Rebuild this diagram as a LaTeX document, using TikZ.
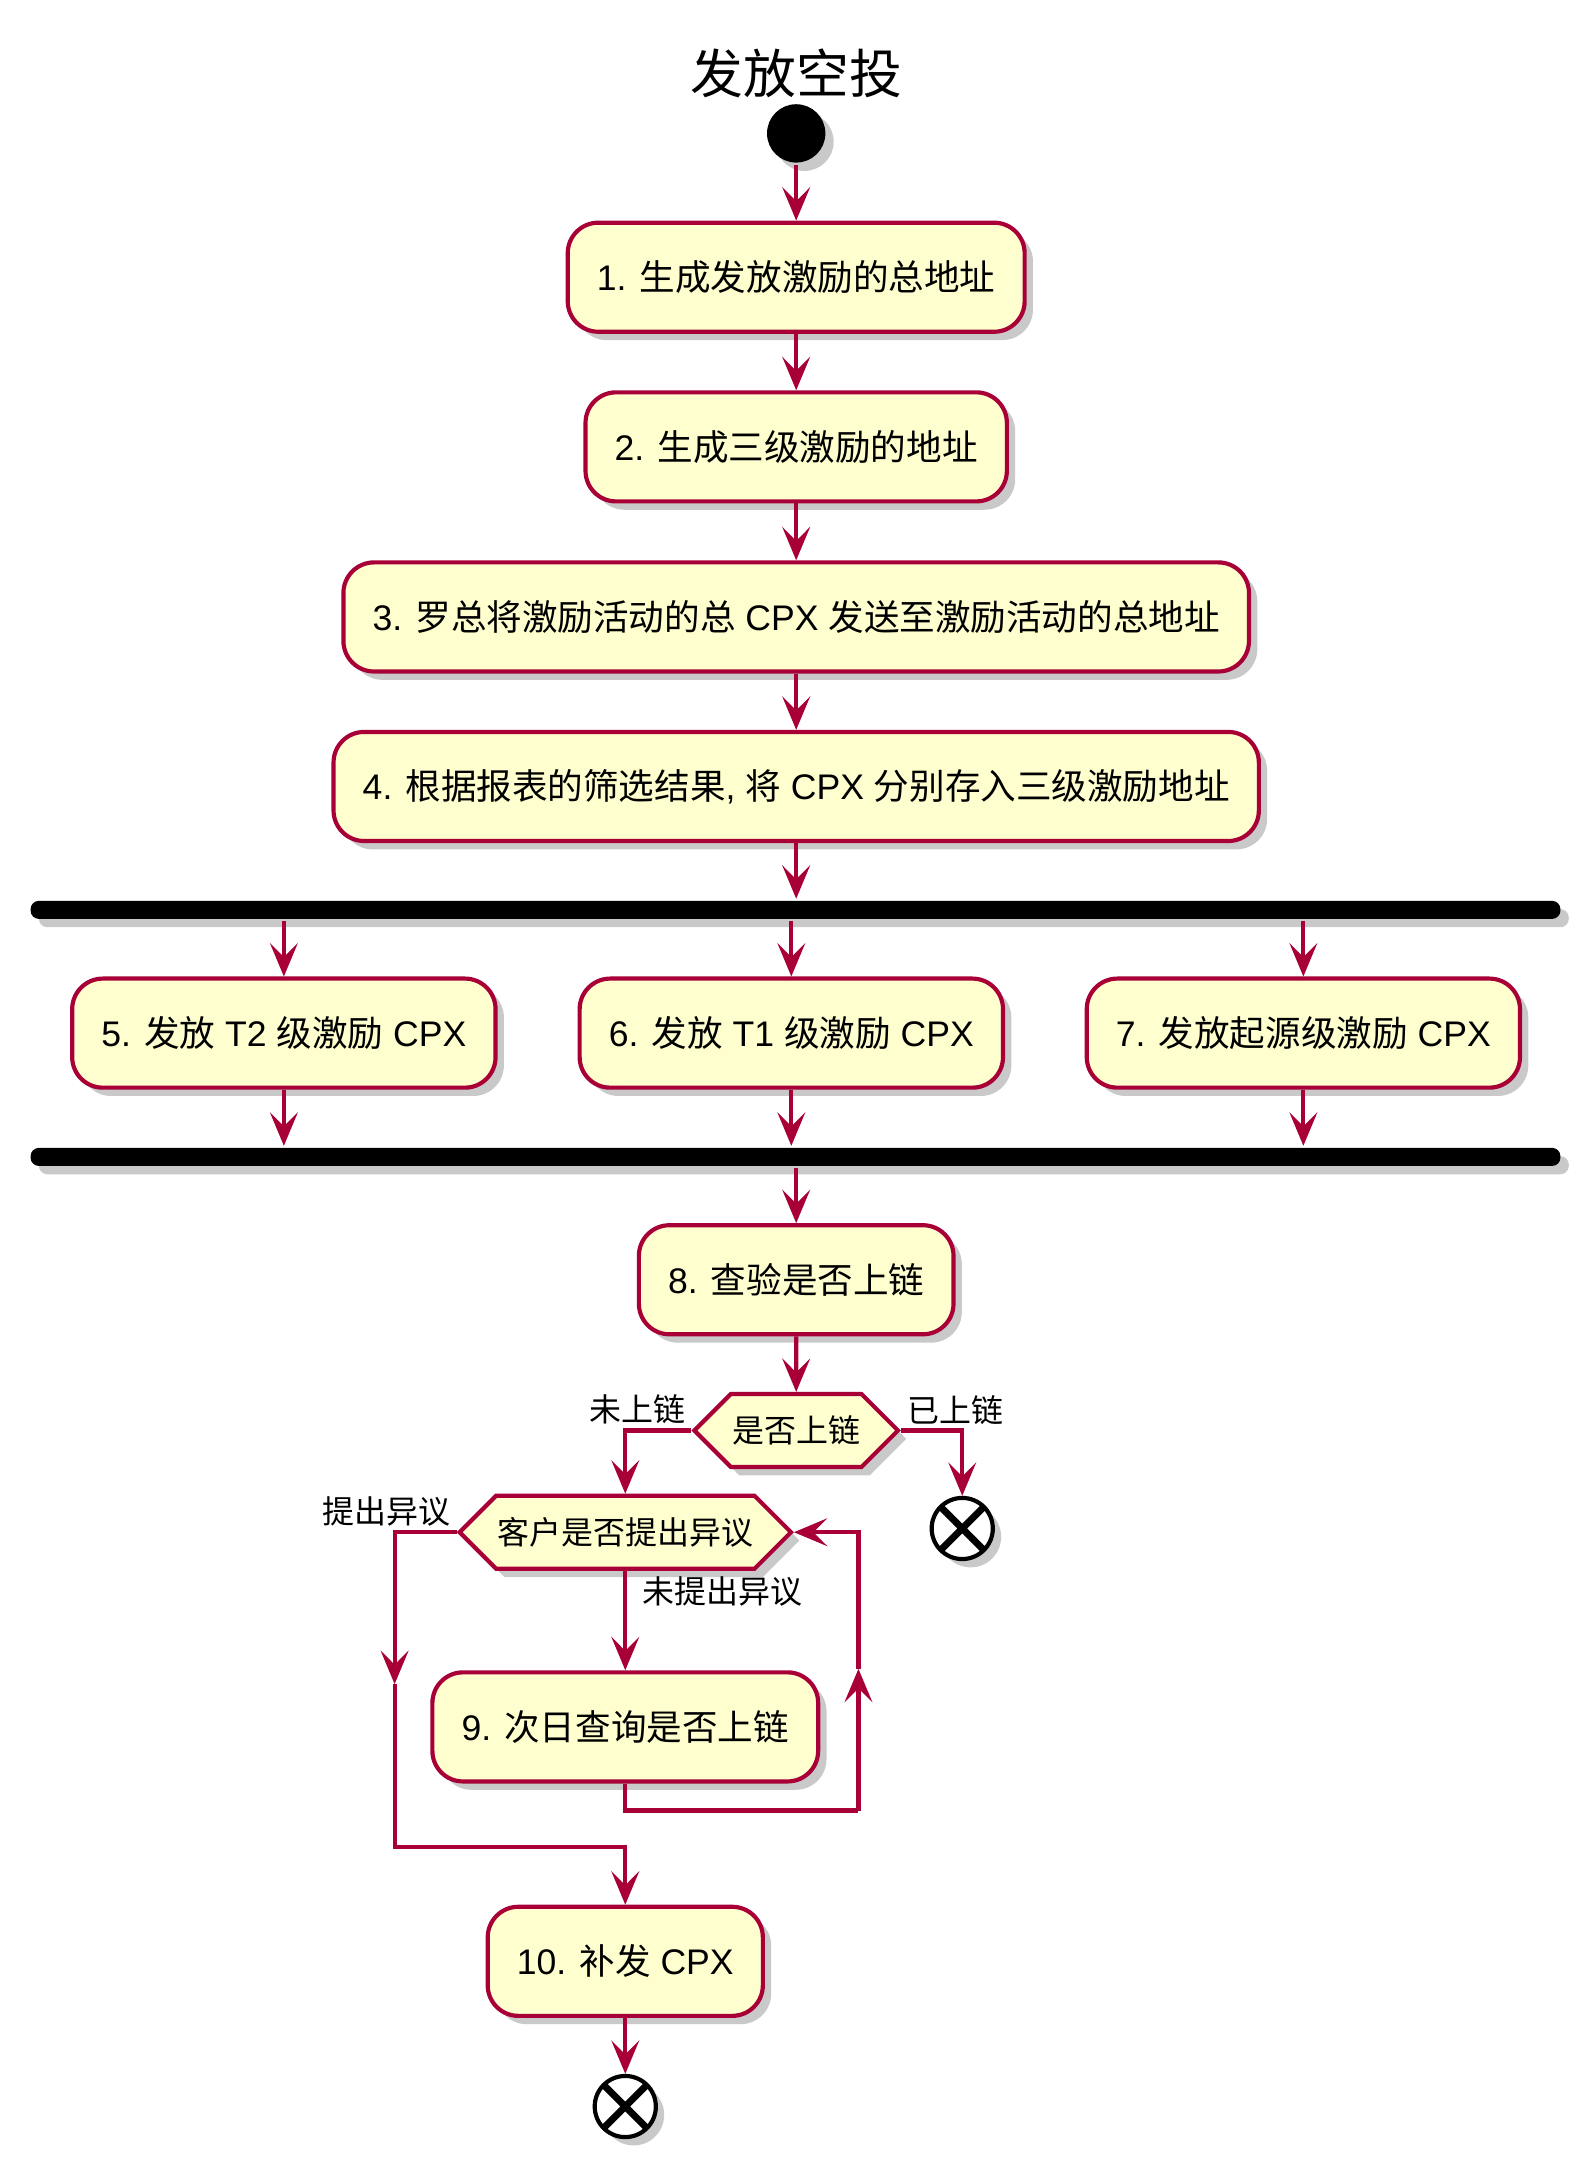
\documentclass[tikz,border=0pt]{standalone}
\usepackage{fontspec}
\setmainfont{Liberation Sans}
\newfontfamily\cjk{Noto Sans CJK SC}
\usetikzlibrary{arrows.meta, shapes.symbols, shadows}
\definecolor{umlred}{HTML}{A80036}
\definecolor{umlfill}{HTML}{FEFECE}

\begin{document}
\begin{tikzpicture}[x=0.5pt, y=-0.5pt, line width=1.5pt, color=umlred,
      >={Stealth[length=12pt, width=10pt, inset=5pt]},
      every node/.append style={text=black, font=\fontsize{12.8}{16}\selectfont},
      umlshadow/.style={drop shadow={shadow xshift=3pt, shadow yshift=-3pt, opacity=0.3, fill=black!70}}]
    \tikzstyle{actbox} = [draw, fill=umlfill, rounded corners=11pt, minimum height=39.25pt, inner xsep=10.5pt, umlshadow]
    \tikzstyle{choice} = [draw, fill=umlfill, signal, signal to=west and east, signal pointer angle=90,
                          minimum height=26.25pt, inner xsep=0.5pt, font=\fontsize{11.5}{14}\cjk, umlshadow]
    \tikzstyle{syncbar} = [fill=black, draw=none, rounded corners=3pt, minimum width=550.5pt,
                           minimum height=6.5pt, inner sep=0pt, umlshadow]
    \tikzstyle{lbl} = [font=\fontsize{11.5}{13}\cjk, inner sep=1.5pt]
    \tikzstyle{startnode} = [circle, fill=black, draw=none, minimum size=21pt, inner sep=0pt, umlshadow]
    \tikzstyle{stopnode} = [circle, draw=black, fill=white, minimum size=22pt, inner sep=0pt, umlshadow,
      path picture={\draw[black, line width=2.5pt]
        (path picture bounding box.north west) -- (path picture bounding box.south east)
        (path picture bounding box.north east) -- (path picture bounding box.south west);}]
    \useasboundingbox (0,0) rectangle (1140,1558.1);
    % title and start
    \node[font=\fontsize{19}{22}\cjk] (title) at (573,53) {发放空投};
    \node[startnode] (start) at (573,96) {};
    % main column
    \node[actbox] (addr) at (573,199.5) {1. {\cjk 生成发放激励的总地址}};
    \node[actbox] (lvladdr) at (573,321.6) {2. {\cjk 生成三级激励的地址}};
    \node[actbox] (send) at (573,444) {3. {\cjk 罗总将激励活动的总} CPX {\cjk 发送至激励活动的总地址}};
    \node[actbox] (store) at (573,566) {4. {\cjk 根据报表的筛选结果}, {\cjk 将} CPX {\cjk 分别存入三级激励地址}};
    \node[syncbar] (fork) at (572.5,654.8) {};
    \node[actbox] (tt) at (204.3,743.5) {5. {\cjk 发放} T2 {\cjk 级激励} CPX};
    \node[actbox] (to) at (569.5,743.5) {6. {\cjk 发放} T1 {\cjk 级激励} CPX};
    \node[actbox] (origin) at (938,743.5) {7. {\cjk 发放起源级激励} CPX};
    \node[syncbar] (join) at (572.5,832.6) {};
    \node[actbox] (check) at (573,921) {8. {\cjk 查验是否上链}};
    \node[choice] (onchain) at (573,1029.5) {是否上链};
    \node[stopnode] (done) at (692.5,1100) {};
    \node[choice] (dispute) at (450,1102.7) {客户是否提出异议};
    \node[actbox] (nextday) at (450,1242.8) {9. {\cjk 次日查询是否上链}};
    \node[actbox] (resend) at (450,1411.5) {10. {\cjk 补发} CPX};
    \node[stopnode] (finish) at (450,1516) {};
    % loop corners
    \coordinate (leftmid) at (284,1212);
    \coordinate (leftbot) at (284,1329.5);
    \coordinate (rightbot) at (617.8,1303);
    \coordinate (rightmid) at (617.8,1201);
    % connectors
    \draw[->] (start) -- (addr);
    \draw[->] (addr) -- (lvladdr);
    \draw[->] (lvladdr) -- (send);
    \draw[->] (send) -- (store);
    \draw[->] (store) -- (store |- fork.north);
    \draw[->] (tt.north |- fork.south) -- (tt);
    \draw[->] (to.north |- fork.south) -- (to);
    \draw[->] (origin.north |- fork.south) -- (origin);
    \draw[->] (tt) -- (tt.south |- join.north);
    \draw[->] (to) -- (to.south |- join.north);
    \draw[->] (origin) -- (origin.south |- join.north);
    \draw[->] (check |- join.south) -- (check);
    \draw[->] (check) -- (onchain);
    \draw[->] (onchain.west) node[lbl, anchor=south east] (notyet) {未上链} -| (dispute.north);
    \draw[->] (onchain.east) node[lbl, anchor=south west] (already) {已上链} -| (done.north);
    \draw[->] (dispute.south) -- (nextday.north);
    \node[lbl, anchor=north west] (nodispute) at ([xshift=4pt]dispute.south) {未提出异议};
    \draw[->] (dispute.west) node[lbl, anchor=south east] (raised) {提出异议} -| (leftmid);
    \draw[->] (leftmid) -- (leftbot) -| (resend.north);
    \draw (nextday.south) |- (rightbot);
    \draw[->] (rightbot) -- (rightmid);
    \draw[->] (rightmid) |- (dispute.east);
    \draw[->] (resend) -- (finish);
\end{tikzpicture}
\end{document}
